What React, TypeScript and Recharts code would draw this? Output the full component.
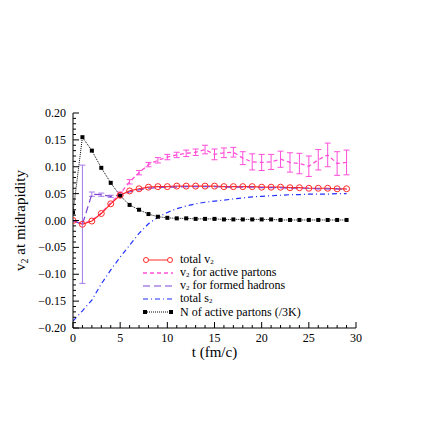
import {
  LineChart,
  Line,
  XAxis,
  YAxis,
  Legend,
  ErrorBar,
} from "recharts";

const times = [0, 1, 2, 3, 4, 5, 6, 7, 8, 9, 10, 11, 12, 13, 14, 15, 16, 17, 18, 19, 20, 21, 22, 23, 24, 25, 26, 27, 28, 29];

const totalV2 = [0.0, -0.007, -0.001, 0.013, 0.031, 0.047, 0.055, 0.059, 0.062, 0.063, 0.063, 0.064, 0.064, 0.064, 0.064, 0.064, 0.063, 0.063, 0.063, 0.063, 0.062, 0.062, 0.062, 0.061, 0.061, 0.06, 0.06, 0.06, 0.059, 0.059];

const v2Active = [0.0, -0.006, 0.0, 0.014, 0.033, 0.05, 0.072, 0.089, 0.104, 0.112, 0.118, 0.122, 0.125, 0.127, 0.132, 0.123, 0.126, 0.127, 0.116, 0.109, 0.108, 0.109, 0.114, 0.108, 0.106, 0.101, 0.113, 0.122, 0.106, 0.108];
const v2ActiveErr = [null, null, null, null, null, 0.003, 0.004, 0.004, 0.004, 0.005, 0.005, 0.005, 0.006, 0.006, 0.008, 0.01, 0.009, 0.009, 0.012, 0.015, 0.015, 0.014, 0.015, 0.018, 0.019, 0.019, 0.019, 0.022, 0.022, 0.023];

const v2Hadrons = [0.0, -0.007, 0.049, 0.048, 0.045, 0.047, 0.053, 0.057, 0.06, 0.061, 0.062, 0.062, 0.063, 0.063, 0.063, 0.063, 0.062, 0.062, 0.062, 0.062, 0.061, 0.061, 0.061, 0.06, 0.06, 0.06, 0.059, 0.059, 0.059, 0.058];
const v2HadronsErr = [null, 0.11, 0.004, 0.003, 0.002, null, null, null, null, null, null, null, null, null, null, null, null, null, null, null, null, null, null, null, null, null, null, null, null, null];

const totalS2 = [-0.187, -0.168, -0.148, -0.118, -0.092, -0.068, -0.046, -0.024, -0.006, 0.006, 0.015, 0.022, 0.027, 0.031, 0.034, 0.036, 0.038, 0.04, 0.042, 0.044, 0.045, 0.046, 0.047, 0.048, 0.048, 0.049, 0.049, 0.049, 0.05, 0.05];

const nActive = [0.015, 0.155, 0.13, 0.098, 0.07, 0.046, 0.029, 0.02, 0.012, 0.007, 0.005, 0.004, 0.004, 0.003, 0.003, 0.003, 0.002, 0.002, 0.002, 0.002, 0.002, 0.002, 0.001, 0.001, 0.001, 0.001, 0.001, 0.001, 0.001, 0.001];

const xTicks = [0, 1, 2, 3, 4, 5, 6, 7, 8, 9, 10, 11, 12, 13, 14, 15, 16, 17, 18, 19, 20, 21, 22, 23, 24, 25, 26, 27, 28, 29, 30];
const yTicks = Array.from({ length: 41 }, (_, i) => Math.round((-0.2 + i * 0.01) * 100) / 100);

const data = times.map((t, i) => ({
  t,
  totalV2: totalV2[i],
  v2Active: v2Active[i],
  v2ActiveErr: v2ActiveErr[i],
  v2Hadrons: v2Hadrons[i],
  v2HadronsErr: v2HadronsErr[i],
  totalS2: totalS2[i],
  nActive: nActive[i],
}));

const FONT = "'Liberation Serif', 'Times New Roman', serif";
const RED = "#ff2a2a";
const PINK = "#ff4fd8";
const PURPLE = "#7f45d4";
const PURPLE_BAR = "#a57ae8";
const BLUE = "#2030ff";

const isMajorX = (v: number) => v % 5 === 0;
const isMajorY = (v: number) => Math.round(v * 100) % 5 === 0;
const fmtY = (v: number) => (v < 0 ? "\u2212" : "") + Math.abs(v).toFixed(2);

function BottomTick({ x, y, payload }: any) {
  const major = isMajorX(payload.value);
  return (
    <g>
      <line x1={x} y1={y} x2={x} y2={y - (major ? 6 : 3)} stroke="#000" />
      {major && (
        <text x={x} y={y + 14} textAnchor="middle" fontSize={12} fontFamily={FONT} fill="#000">
          {payload.value}
        </text>
      )}
    </g>
  );
}

function TopTick({ x, y, payload }: any) {
  const major = isMajorX(payload.value);
  return <line x1={x} y1={y} x2={x} y2={y + (major ? 6 : 3)} stroke="#000" />;
}

function LeftTick({ x, y, payload }: any) {
  const major = isMajorY(payload.value);
  return (
    <g>
      <line x1={x} y1={y} x2={x + (major ? 6 : 3)} y2={y} stroke="#000" />
      {major && (
        <text x={x - 7} y={y + 4} textAnchor="end" fontSize={12} fontFamily={FONT} fill="#000">
          {fmtY(payload.value)}
        </text>
      )}
    </g>
  );
}

function RightTick({ x, y, payload }: any) {
  const major = isMajorY(payload.value);
  return <line x1={x} y1={y} x2={x - (major ? 6 : 3)} y2={y} stroke="#000" />;
}

function XTitle({ viewBox }: any) {
  return (
    <text x={viewBox.x + viewBox.width / 2} y={viewBox.y + 29} textAnchor="middle" fontSize={15} fontFamily={FONT} fill="#000">
      t (fm/c)
    </text>
  );
}

function YTitle({ viewBox }: any) {
  const cx = viewBox.x + 17;
  const cy = viewBox.y + viewBox.height / 2;
  return (
    <text x={cx} y={cy} transform={`rotate(-90 ${cx} ${cy})`} textAnchor="middle" fontSize={15} fontFamily={FONT} fill="#000">
      v<tspan fontSize={10} dy={3}>2</tspan>
      <tspan dy={-3}> at midrapidity</tspan>
    </text>
  );
}

function CircleDot({ cx, cy }: any) {
  if (cx == null || cy == null) return null;
  return <circle cx={cx} cy={cy} r={3} fill="none" stroke={RED} strokeWidth={1} />;
}

function SquareDot({ cx, cy }: any) {
  if (cx == null || cy == null) return null;
  return <rect x={cx - 2} y={cy - 2} width={4} height={4} fill="#000" />;
}

const Sub = ({ children }: any) => (
  <span style={{ fontSize: 7, position: "relative", top: 1.5 }}>{children}</span>
);

const legendRows = [
  { key: "totalV2", label: <>total v<Sub>2</Sub></> },
  { key: "v2Active", label: <>v<Sub>2</Sub> for active partons</> },
  { key: "v2Hadrons", label: <>v<Sub>2</Sub> for formed hadrons</> },
  { key: "totalS2", label: <>total s<Sub>2</Sub></> },
  { key: "nActive", label: <>N of active partons (/3K)</> },
];

function Sample({ k }: { k: string }) {
  return (
    <svg width={30} height={12} style={{ display: "block" }}>
      {k === "totalV2" && (
        <>
          <line x1={3} y1={6} x2={27} y2={6} stroke={RED} />
          <circle cx={3} cy={6} r={2.5} fill="#fff" stroke={RED} />
          <circle cx={27} cy={6} r={2.5} fill="#fff" stroke={RED} />
        </>
      )}
      {k === "v2Active" && <line x1={0} y1={6} x2={30} y2={6} stroke={PINK} strokeWidth={1.5} strokeDasharray="4 3" />}
      {k === "v2Hadrons" && <line x1={0} y1={6} x2={30} y2={6} stroke={PURPLE} strokeWidth={1.2} strokeDasharray="7 4" />}
      {k === "totalS2" && <line x1={0} y1={6} x2={30} y2={6} stroke={BLUE} strokeWidth={1.2} strokeDasharray="5 3 1 3" />}
      {k === "nActive" && (
        <>
          <line x1={2} y1={6} x2={28} y2={6} stroke="#000" strokeDasharray="1 1" />
          <rect x={0} y={4} width={4} height={4} fill="#000" />
          <rect x={26} y={4} width={4} height={4} fill="#000" />
        </>
      )}
    </svg>
  );
}

function LegendBox() {
  return (
    <div style={{ fontFamily: FONT, fontSize: 12, color: "#000" }}>
      {legendRows.map((r) => (
        <div key={r.key} style={{ display: "flex", alignItems: "center", height: 13, whiteSpace: "nowrap" }}>
          <Sample k={r.key} />
          <span style={{ marginLeft: 7, lineHeight: "12px" }}>{r.label}</span>
        </div>
      ))}
    </div>
  );
}

export default function App() {
  return (
    <div style={{ width: 427, height: 427, fontFamily: FONT }}>
      <LineChart
        width={427}
        height={427}
        data={data}
        margin={{ top: 105, right: 79, bottom: 67, left: 0 }}
      >
        <XAxis
          dataKey="t"
          type="number"
          domain={[0, 30]}
          ticks={xTicks}
          interval={0}
          allowDataOverflow
          height={40}
          tickSize={0}
          tickMargin={0}
          tickLine={false}
          axisLine={{ stroke: "#000" }}
          tick={<BottomTick />}
          label={<XTitle />}
        />
        <XAxis
          xAxisId="top"
          orientation="top"
          type="number"
          domain={[0, 30]}
          ticks={xTicks}
          interval={0}
          allowDataOverflow
          height={0}
          tickSize={0}
          tickMargin={0}
          tickLine={false}
          axisLine={{ stroke: "#000" }}
          tick={<TopTick />}
        />
        <YAxis
          type="number"
          domain={[-0.2, 0.2]}
          ticks={yTicks}
          interval={0}
          allowDataOverflow
          width={65}
          tickSize={0}
          tickMargin={0}
          tickLine={false}
          axisLine={{ stroke: "#000" }}
          tick={<LeftTick />}
          label={<YTitle />}
        />
        <YAxis
          yAxisId="right"
          orientation="right"
          type="number"
          domain={[-0.2, 0.2]}
          ticks={yTicks}
          interval={0}
          allowDataOverflow
          width={0}
          tickSize={0}
          tickMargin={0}
          tickLine={false}
          axisLine={{ stroke: "#000" }}
          tick={<RightTick />}
        />
        <Legend
          layout="horizontal"
          verticalAlign="middle"
          align="center"
          content={<LegendBox />}
          wrapperStyle={{ left: 135, top: 245, width: "auto" }}
        />
        <Line
          dataKey="totalS2"
          stroke={BLUE}
          strokeWidth={1.2}
          strokeDasharray="5 3 1 3"
          dot={false}
          activeDot={false}
          isAnimationActive={false}
        />
        <Line
          dataKey="nActive"
          stroke="#000"
          strokeWidth={1}
          strokeDasharray="1 1"
          dot={<SquareDot />}
          activeDot={false}
          isAnimationActive={false}
        />
        <Line
          dataKey="v2Active"
          stroke={PINK}
          strokeWidth={1.3}
          strokeDasharray="4 3"
          dot={false}
          activeDot={false}
          isAnimationActive={false}
        >
          <ErrorBar dataKey="v2ActiveErr" width={3} stroke={PINK} strokeWidth={1} direction="y" isAnimationActive={false} />
        </Line>
        <Line
          dataKey="totalV2"
          stroke={RED}
          strokeWidth={1.2}
          dot={<CircleDot />}
          activeDot={false}
          isAnimationActive={false}
        />
        <Line
          dataKey="v2Hadrons"
          stroke={PURPLE}
          strokeWidth={1.2}
          strokeDasharray="7 4"
          dot={false}
          activeDot={false}
          isAnimationActive={false}
        >
          <ErrorBar dataKey="v2HadronsErr" width={3} stroke={PURPLE_BAR} strokeWidth={1} direction="y" isAnimationActive={false} />
        </Line>
      </LineChart>
    </div>
  );
}
